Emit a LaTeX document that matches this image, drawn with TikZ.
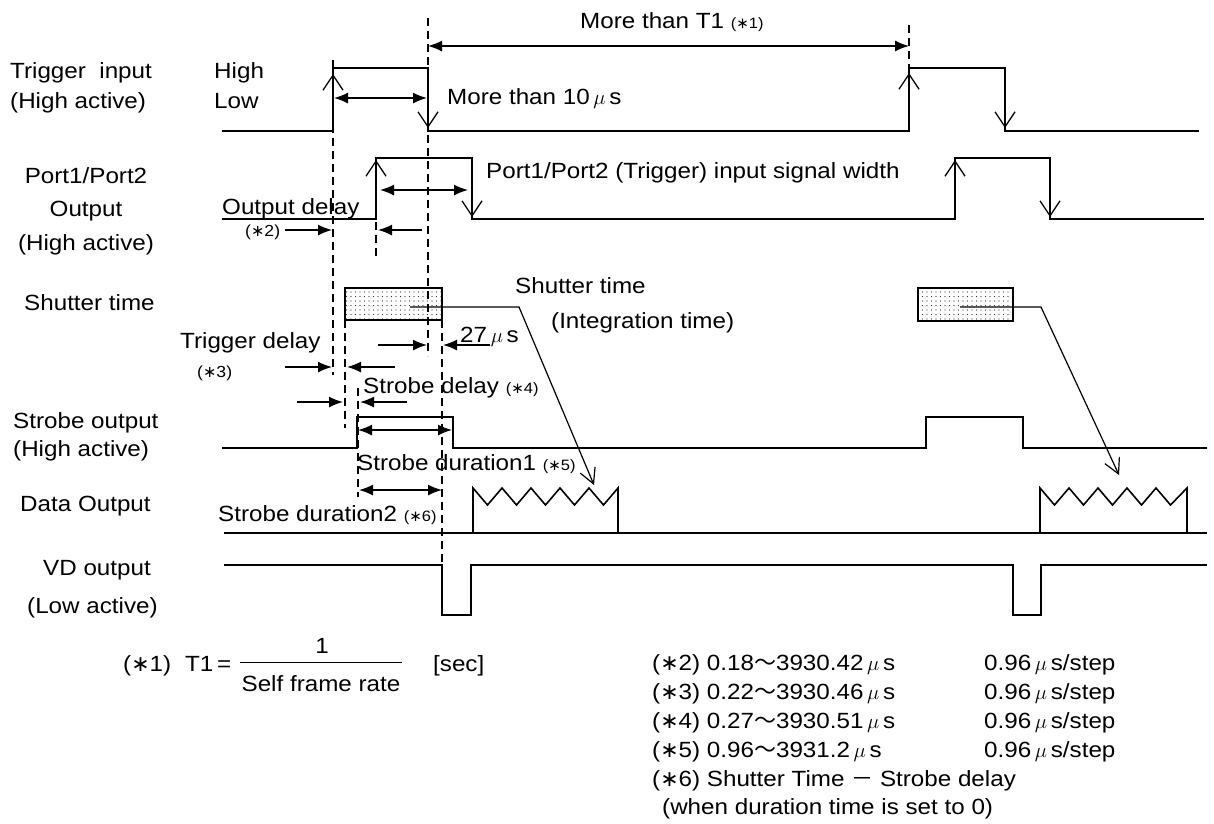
\documentclass[tikz,border=0pt]{standalone}
\usepackage{fontspec}
\setmainfont{Liberation Sans}[FakeStretch=1.1]
\newfontfamily\cjk{Noto Sans CJK JP}
\newfontfamily\djv{DejaVu Sans}
\usetikzlibrary{arrows.meta,patterns.meta}
\newcommand\stx{{\djv ∗}}
\newcommand\mic{$\mu$}
\tikzset{
  sig/.style={line width=1.6pt, line join=miter},
  dsh/.style={line width=1.2pt, dash pattern=on 8pt off 5pt},
  dimarrow/.style={line width=1.5pt, {Latex[length=14pt,width=11pt]}-{Latex[length=14pt,width=11pt]}},
  ptr/.style={line width=1.5pt, -{Latex[length=14pt,width=11pt]}},
  edg/.style={line width=1.3pt, -{Straight Barb[length=15pt,width=20pt]}},
  shline/.style={line width=1.2pt, -{Straight Barb[length=15pt,width=16pt]}},
  lbl/.style={inner sep=0pt, anchor=base west, font=\fontsize{22}{26}\selectfont},
  lblc/.style={lbl, anchor=base},
  sml/.style={inner sep=0pt, anchor=base west, font=\fontsize{16}{18}\selectfont},
  shbox/.style={line width=1.4pt, pattern={Dots[distance=4.5pt,radius=0.7pt]}, pattern color=black!80}
}
\newcommand\smallstar[1]{{\fontsize{15}{17}\selectfont(\stx#1)}}
\begin{document}
\begin{tikzpicture}[x=1pt,y=-1pt]
\useasboundingbox (0,0) rectangle (1214,823);

% ---------- shutter boxes (under dashed lines) ----------
\draw[shbox] (345,288) rectangle (442,320);
\draw[shbox] (918,288) rectangle (1013,321);

% ---------- dashed guide lines ----------
\draw[dsh] (333,60) -- (333,375);
\draw[dsh] (376,222) -- (376,258);
\draw[dsh] (428,18) -- (428,356);
\draw[dsh] (345,320) -- (345,428);
\draw[dsh] (358,388) -- (358,497);
\draw[dsh] (442,320) -- (442,565);
\draw[dsh] (909,25) -- (909,68);

% ---------- Trigger input ----------
\draw[sig] (222,131) -- (333,131) -- (333,68) -- (428,68) -- (428,131) -- (909,131) -- (909,68) -- (1005,68) -- (1005,131) -- (1199,131);
\draw[edg] (333,131) -- (333,74);
\draw[edg] (428,68) -- (428,128);
\draw[edg] (909,131) -- (909,73);
\draw[edg] (1005,68) -- (1005,128);

% ---------- Port1/Port2 output ----------
\draw[sig] (222,219) -- (376,219) -- (376,158) -- (472,158) -- (472,219) -- (955,219) -- (955,158) -- (1050,158) -- (1050,219) -- (1204,219);
\draw[edg] (376,219) -- (376,160);
\draw[edg] (472,158) -- (472,217);
\draw[edg] (955,219) -- (955,160);
\draw[edg] (1050,158) -- (1050,217);

% ---------- Shutter lines ----------
\draw[shline] (410,307) -- (519,307) -- (594,485);
\draw[shline] (960,307) -- (1041,307) -- (1119,475);

% ---------- Strobe output ----------
\draw[sig] (222,448) -- (357,448) -- (357,417) -- (453,417) -- (453,448) -- (926,448) -- (926,417) -- (1023,417) -- (1023,448) -- (1207,448);

% ---------- Data output ----------
\draw[sig] (224,533) -- (1207,533);
\draw[sig] (473,533) -- (473,488) -- (487.5,505) -- (502,488) -- (516.5,505) -- (531,488) -- (545.5,505) -- (560,488) -- (574.5,505) -- (589,488) -- (603.5,505) -- (618,488) -- (618,533);
\draw[sig] (1040,533) -- (1040,488) -- (1054.5,505) -- (1069,488) -- (1083.5,505) -- (1098,488) -- (1112.5,505) -- (1127,488) -- (1141.5,505) -- (1156,488) -- (1170.5,505) -- (1187,488) -- (1187,533);

% ---------- VD output ----------
\draw[sig] (224,565) -- (442,565) -- (442,615) -- (471,615) -- (471,565) -- (1013,565) -- (1013,615) -- (1041,615) -- (1041,565) -- (1207,565);

% ---------- dimension arrows ----------
\draw[dimarrow] (428,46) -- (909,46);
\draw[dimarrow] (334,98) -- (427,98);
\draw[dimarrow] (380,190) -- (468,190);
\draw[dimarrow] (358,430) -- (452,430);
\draw[dimarrow] (359,490) -- (442,490);

% ---------- pointer arrows ----------
\draw[ptr] (285,230) -- (332,230);
\draw[ptr] (422,230) -- (378,230);
\draw[ptr] (285,367) -- (332,367);
\draw[ptr] (395,367) -- (347,367);
\draw[ptr] (297,402) -- (343,402);
\draw[ptr] (407,402) -- (360,402);
\draw[ptr] (378,345) -- (427,345);
\draw[ptr] (490,345) -- (443,345);

% ---------- labels ----------
\node[lbl] (t1) at (580,28) {More than T1 \smallstar{1}};
\node[lbl] (trg1) at (10,78) {Trigger\ \ input};
\node[lbl] (trg2) at (10,108) {(High active)};
\node[lbl] (hi) at (214,78) {High};
\node[lbl] (lo) at (214,108) {Low};
\node[lbl] (m10) at (447,104) {More than 10\,\mic\,s};
\node[lblc] (p1) at (86,183) {Port1/Port2};
\node[lblc] (p2) at (86,216) {Output};
\node[lblc] (p3) at (86,250) {(High active)};
\node[lbl] (pw) at (486,178) {Port1/Port2 (Trigger) input signal width};
\node[lbl] (od) at (222,214) {Output delay};
\node[sml] (od2) at (245,236) {(\stx2)};
\node[lbl] (sh) at (24,310) {Shutter time};
\node[lbl] (sh2) at (515,293) {Shutter time};
\node[lbl] (sh3) at (551,328) {(Integration time)};
\node[lbl] (us27) at (460,342) {27\,\mic\,s};
\node[lbl] (tdl) at (180,348) {Trigger delay};
\node[sml] (tdl2) at (197,377) {(\stx3)};
\node[lbl] (sdl) at (363,393) {Strobe delay \smallstar{4}};
\node[lbl] (so1) at (13,428) {Strobe output};
\node[lbl] (so2) at (13,456) {(High active)};
\node[lbl] (sd1) at (357,470) {Strobe duration1 \smallstar{5}};
\node[lbl] (dout) at (20,511) {Data Output};
\node[lbl] (sd2) at (218,521) {Strobe duration2 \smallstar{6}};
\node[lbl] (vd1) at (43,575) {VD output};
\node[lbl] (vd2) at (27,613) {(Low active)};

% ---------- formula ----------
\node[lbl] (f1) at (123,671) {(\stx1)};
\node[lbl] (f2) at (185,671) {T1\,=};
\node[lblc] (fnum) at (322,653) {1};
\draw[line width=1pt] (240,662) -- (402,662);
\node[lblc] (fden) at (321,691) {Self frame rate};
\node[lbl] (fsec) at (433,671) {[sec]};

% ---------- notes ----------
\node[lbl] (n2) at (652,670) {(\stx2) 0.18{\cjk ～}3930.42\,\mic\,s};
\node[lbl] (n2b) at (984,670) {0.96\,\mic\,s/step};
\node[lbl] (n3) at (652,699) {(\stx3) 0.22{\cjk ～}3930.46\,\mic\,s};
\node[lbl] (n3b) at (984,699) {0.96\,\mic\,s/step};
\node[lbl] (n4) at (652,728) {(\stx4) 0.27{\cjk ～}3930.51\,\mic\,s};
\node[lbl] (n4b) at (984,728) {0.96\,\mic\,s/step};
\node[lbl] (n5) at (652,757) {(\stx5) 0.96{\cjk ～}3931.2\,\mic\,s};
\node[lbl] (n5b) at (984,757) {0.96\,\mic\,s/step};
\node[lbl] (n6) at (652,786) {(\stx6) Shutter Time {\cjk －} Strobe delay};
\node[lbl] (n7) at (662,814) {(when duration time is set to 0)};
\end{tikzpicture}
\end{document}
